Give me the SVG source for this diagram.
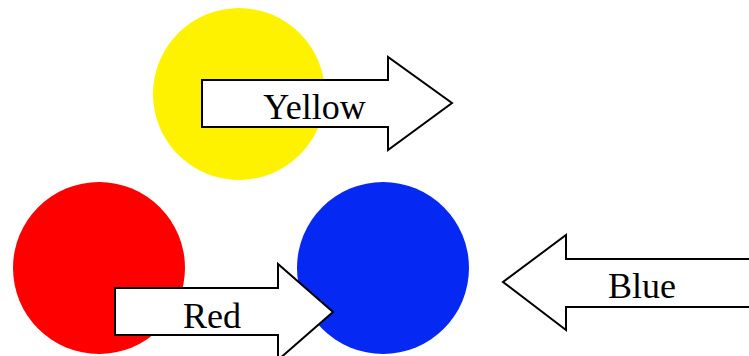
<svg xmlns="http://www.w3.org/2000/svg" width="749" height="356" viewBox="0 0 749 356">
<style>
.arrow{fill:#fff;stroke:#000;stroke-width:2;stroke-linejoin:miter}
.lbl{font-family:"Liberation Serif","Times New Roman",serif;font-size:36px;fill:#000;text-anchor:middle}
</style>
<rect width="749" height="356" fill="#fff"/>
<g id="yellow"><circle cx="239" cy="94" r="86" fill="#FFF200"/></g>
<g id="red"><circle cx="99" cy="268" r="86" fill="#FF0000"/></g>
<g id="blue"><circle cx="383" cy="268" r="86" fill="#0529F2"/></g>
<g id="connectors">
<g id="arrow-yellow"><polygon class="arrow" points="202,80 388,80 388,57 452,103 388,150 388,127 202,127"/><text class="lbl" x="314.5" y="119">Yellow</text></g>
<g id="arrow-red"><polygon class="arrow" points="115,288 278,288 278,264 333,312 278,360 278,335 115,335"/><text class="lbl" x="212" y="328">Red</text></g>
<g id="arrow-blue"><polygon class="arrow" points="760,259 566,259 566,235 503,282 566,330 566,307 760,307"/><text class="lbl" x="642" y="298">Blue</text></g>
</g>
</svg>
